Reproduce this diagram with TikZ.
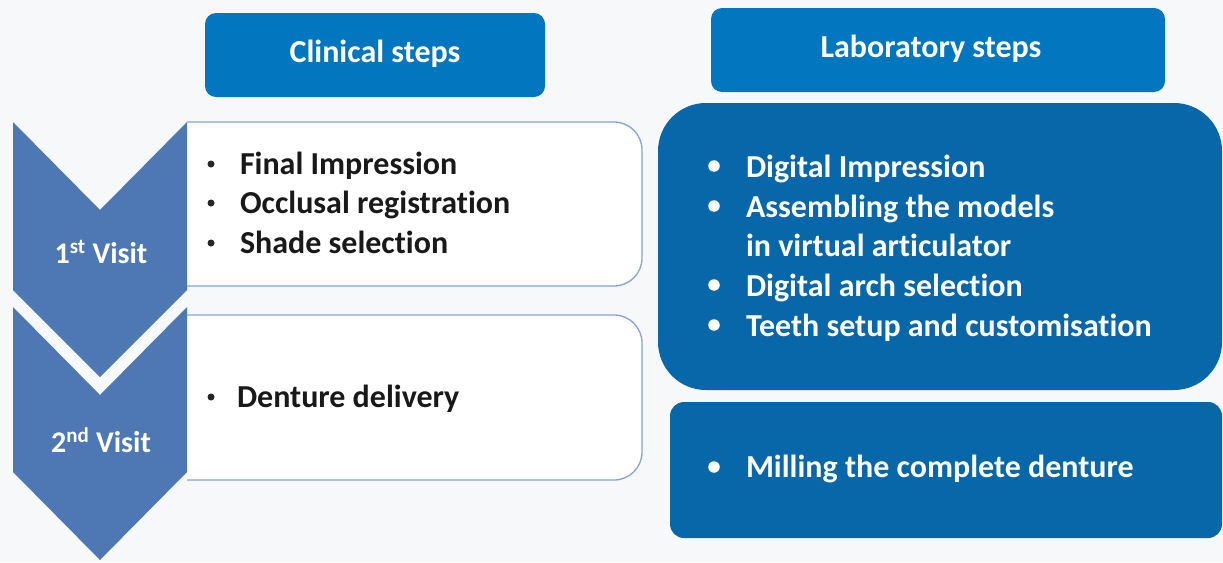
\documentclass[tikz,border=0pt]{standalone}
\usepackage{fontspec}
\setmainfont[RawFeature=-liga]{Carlito}
\definecolor{bgc}{RGB}{247,248,250}
\definecolor{hdr}{RGB}{2,118,191}
\definecolor{lab}{RGB}{8,103,168}
\definecolor{chev}{RGB}{78,120,180}
\definecolor{wline}{RGB}{135,163,212}
\begin{document}
\begin{tikzpicture}[x=1pt,y=-1pt,
  every node/.style={inner sep=0pt, outer sep=0pt},
  hdrbox/.style={fill=hdr, rounded corners=11pt, anchor=north west},
  labbox/.style={fill=lab, anchor=north west},
  wbox/.style={draw=wline, line width=1.3pt, fill=white, rounded corners=28pt, anchor=north west},
  chevshape/.style={fill=chev},
  hdrtxt/.style={text=white, font=\bfseries\fontsize{32}{38}\selectfont},
  clintxt/.style={text=black!90, anchor=base west, font=\bfseries\fontsize{32}{38}\selectfont},
  labtxt/.style={text=white, anchor=base west, font=\bfseries\fontsize{32}{38}\selectfont},
  visittxt/.style={text=white, anchor=base, font=\bfseries\fontsize{30}{36}\selectfont},
  blackdot/.style={circle, fill=black!85, minimum size=7pt},
  whitedot/.style={circle, fill=white, minimum size=11.5pt}
]
\fill[bgc] (0,0) rectangle (1223,562);
\useasboundingbox (0,0) rectangle (1223,562);

% headers
\node[hdrbox, minimum width=340pt, minimum height=84pt] (hclin) at (205,13) {};
\node[hdrtxt] (tclin) at ([yshift=1pt]hclin.center) {Clinical steps};
\node[hdrbox, minimum width=454pt, minimum height=84pt] (hlab) at (711,8) {};
\node[hdrtxt] (tlab) at ([xshift=-7pt,yshift=1pt]hlab.center) {Laboratory steps};

% white boxes (left side hidden by the chevrons)
\begin{scope}
\clip (187,0) rectangle (700,562);
\node[wbox, minimum width=492pt, minimum height=164pt] (wb1) at (150,122) {};
\node[wbox, minimum width=492pt, minimum height=165pt] (wb2) at (150,315) {};
\end{scope}

% chevrons
\fill[chevshape] (13,122) -- (100,210) -- (187,122) -- (187,290) -- (100,377) -- (13,290) -- cycle;
\fill[chevshape] (13,307) -- (100,395) -- (187,307) -- (187,472) -- (100,560) -- (13,472) -- cycle;
\node[visittxt] (v1) at (101,263) {1\textsuperscript{st} Visit};
\node[visittxt] (v2) at (101,452) {2\textsuperscript{nd} Visit};

% clinical text
\node[blackdot] (b1) at (211,164) {};
\node[clintxt] (c1) at (240,174) {Final Impression};
\node[blackdot] (b2) at (211,203) {};
\node[clintxt] (c2) at (240,213) {Occlusal registration};
\node[blackdot] (b3) at (211,243) {};
\node[clintxt] (c3) at (240,253) {Shade selection};
\node[blackdot] (b4) at (211,397) {};
\node[clintxt] (c4) at (237,407) {Denture delivery};

% lab boxes
\node[labbox, rounded corners=48pt, minimum width=564pt, minimum height=287pt] (lb1) at (658,103) {};
\node[labbox, rounded corners=14pt, minimum width=552pt, minimum height=136pt] (lb2) at (670,402) {};

\node[whitedot] (d1) at (714,166) {};
\node[labtxt] (l1) at (746,177) {Digital Impression};
\node[whitedot] (d2) at (714,206) {};
\node[labtxt] (l2) at (746,217) {Assembling the models};
\node[labtxt] (l3) at (746,256) {in virtual articulator};
\node[whitedot] (d3) at (714,285) {};
\node[labtxt] (l4) at (746,296) {Digital arch selection};
\node[whitedot] (d4) at (714,325) {};
\node[labtxt] (l5) at (746,336) {Teeth setup and customisation};
\node[whitedot] (d5) at (714,467) {};
\node[labtxt] (l6) at (746,477) {Milling the complete denture};
\end{tikzpicture}
\end{document}
